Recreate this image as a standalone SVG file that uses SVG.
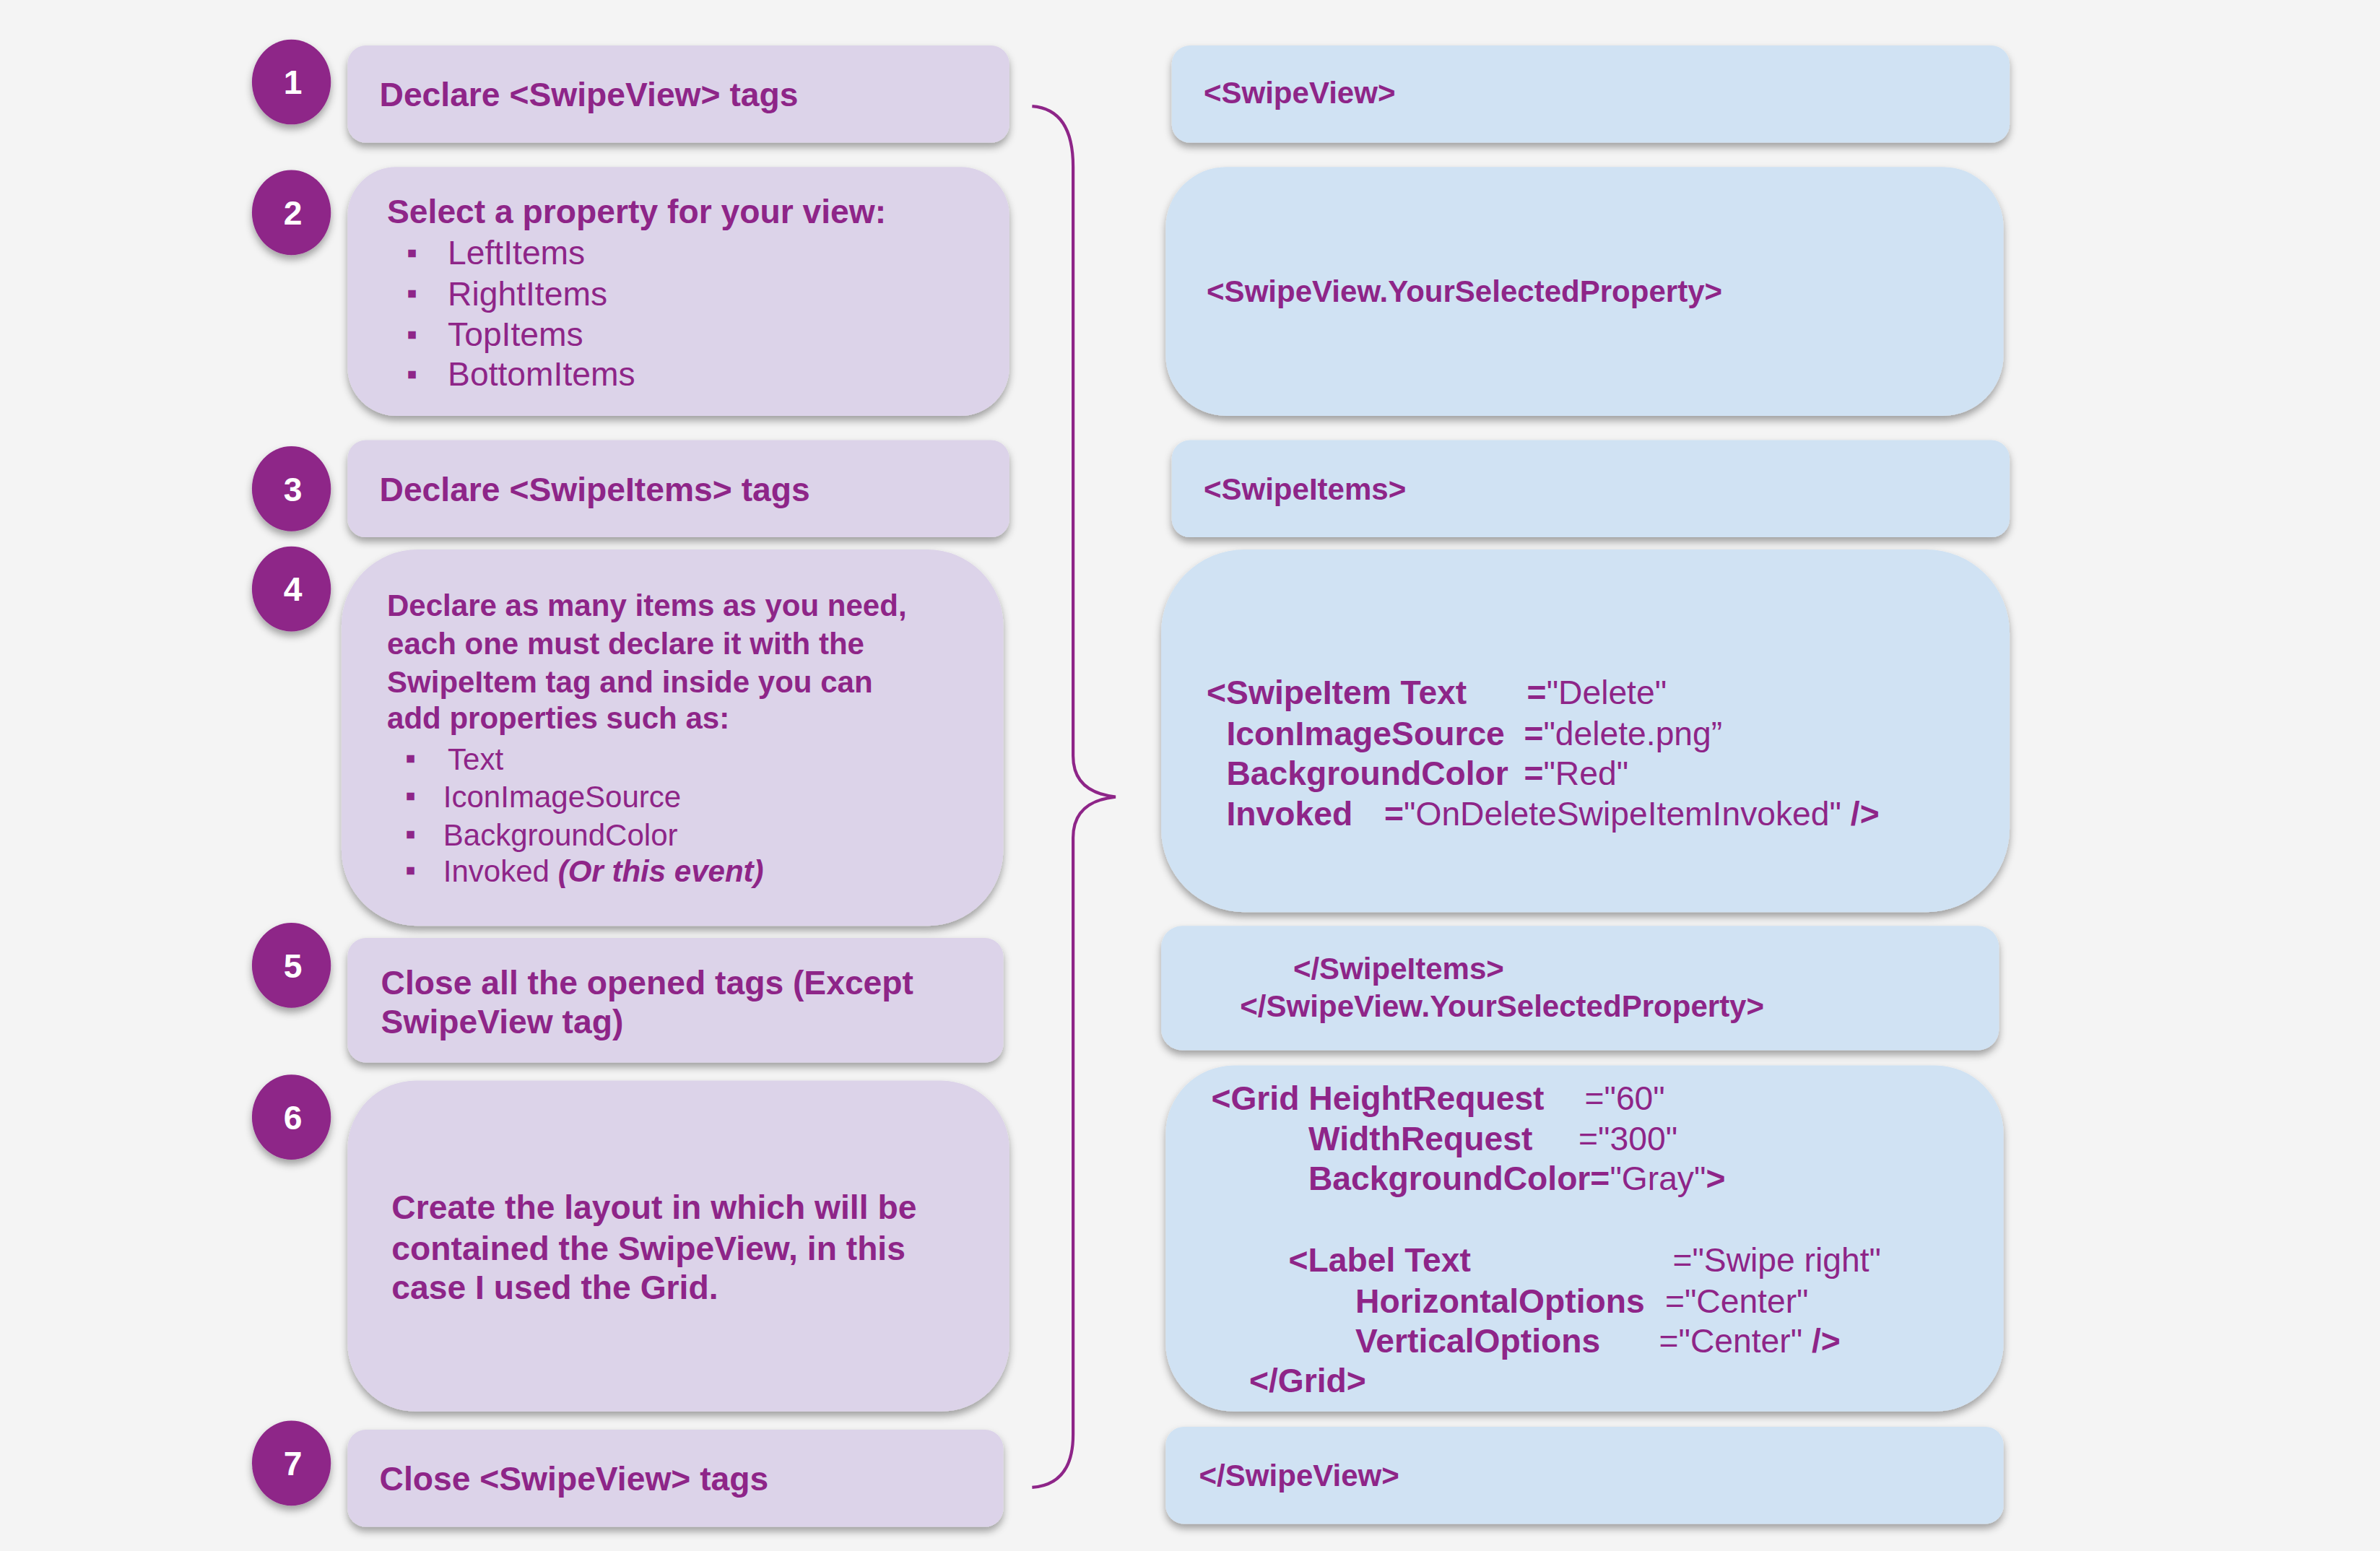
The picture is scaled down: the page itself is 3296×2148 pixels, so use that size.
<svg xmlns="http://www.w3.org/2000/svg" width="3296" height="2148" viewBox="0 0 3296 2148">
<defs>
<filter id="sh" x="-10%" y="-10%" width="120%" height="130%"><feDropShadow dx="0" dy="3" stdDeviation="2.5" flood-color="#000" flood-opacity="0.35"/></filter>
<style>
.l{fill:#dcd3e9;filter:url(#sh)}
.r{fill:#d0e2f3;filter:url(#sh)}
.c{fill:#8e2588;filter:url(#sh)}
.n{fill:#fff;font:bold 22px "Liberation Sans",Arial,sans-serif;text-anchor:middle}
text{font-family:"Liberation Sans",Arial,sans-serif;fill:#8e2588}
.b{font-weight:bold}
.t{font-size:22px}
.s{font-size:20px}
.w{font-weight:normal}
</style>
</defs>
<rect width="3296" height="2148" fill="#f4f4f4"/>
<g transform="scale(2.102)">
<g id="step1"><rect class="l" x="229" y="30" width="436" height="64" rx="12"/><ellipse class="c" cx="192" cy="54" rx="26" ry="28"/><text class="n" x="193" y="62">1</text><text class="b t" x="250" y="70">Declare &lt;SwipeView&gt; tags</text></g>
<g id="step2"><rect class="l" x="229" y="110" width="436" height="164" rx="32"/><ellipse class="c" cx="192" cy="140" rx="26" ry="28"/><text class="n" x="193" y="148">2</text>
<text class="b t" x="255" y="147">Select a property for your view:</text>
<text class="s" x="268" y="173">▪</text><text class="t" x="295" y="174">LeftItems</text>
<text class="s" x="268" y="200">▪</text><text class="t" x="295" y="201">RightItems</text>
<text class="s" x="268" y="227">▪</text><text class="t" x="295" y="228">TopItems</text>
<text class="s" x="268" y="253">▪</text><text class="t" x="295" y="254">BottomItems</text></g>
<g id="step3"><rect class="l" x="229" y="290" width="436" height="64" rx="12"/><ellipse class="c" cx="192" cy="322" rx="26" ry="28"/><text class="n" x="193" y="330">3</text><text class="b t" x="250" y="330">Declare &lt;SwipeItems&gt; tags</text></g>
<g id="step4"><rect class="l" x="225" y="362" width="436" height="248" rx="50"/><ellipse class="c" cx="192" cy="388" rx="26" ry="28"/><text class="n" x="193" y="396">4</text>
<text class="b s" x="255" y="406">Declare as many items as you need,</text>
<text class="b s" x="255" y="431">each one must declare it with the</text>
<text class="b s" x="255" y="456">SwipeItem tag and inside you can</text>
<text class="b s" x="255" y="480">add properties such as:</text>
<text class="s" x="267" y="506">▪</text><text class="s" x="295" y="507">Text</text>
<text class="s" x="267" y="531">▪</text><text class="s" x="292" y="532">IconImageSource</text>
<text class="s" x="267" y="556">▪</text><text class="s" x="292" y="557">BackgroundColor</text>
<text class="s" x="267" y="580">▪</text><text class="s" x="292" y="581">Invoked <tspan class="b" font-style="italic">(Or this event)</tspan></text></g>
<g id="step5"><rect class="l" x="229" y="618" width="432" height="82" rx="12"/><ellipse class="c" cx="192" cy="636" rx="26" ry="28"/><text class="n" x="193" y="644">5</text><text class="b t" x="251" y="655">Close all the opened tags (Except</text><text class="b t" x="251" y="681">SwipeView tag)</text></g>
<g id="step6"><rect class="l" x="229" y="712" width="436" height="218" rx="45"/><ellipse class="c" cx="192" cy="736" rx="26" ry="28"/><text class="n" x="193" y="744">6</text>
<text class="b t" x="258" y="803">Create the layout in which will be</text><text class="b t" x="258" y="830">contained the SwipeView, in this</text><text class="b t" x="258" y="856">case I used the Grid.</text></g>
<g id="step7"><rect class="l" x="229" y="942" width="432" height="64" rx="12"/><ellipse class="c" cx="192" cy="964" rx="26" ry="28"/><text class="n" x="193" y="972">7</text><text class="b t" x="250" y="982">Close &lt;SwipeView&gt; tags</text></g>

<g id="code1"><rect class="r" x="772" y="30" width="552" height="64" rx="12"/><text class="b s" x="793" y="68">&lt;SwipeView&gt;</text></g>
<g id="code2"><rect class="r" x="768" y="110" width="552" height="164" rx="40"/><text class="b s" x="795" y="199">&lt;SwipeView.YourSelectedProperty&gt;</text></g>
<g id="code3"><rect class="r" x="772" y="290" width="552" height="64" rx="12"/><text class="b s" x="793" y="329">&lt;SwipeItems&gt;</text></g>
<g id="code4"><rect class="r" x="765" y="362" width="559" height="239" rx="55"/>
<text class="b t" x="795" y="464">&lt;SwipeItem Text</text><text class="t" x="1006" y="464"><tspan class="b">=</tspan>"Delete"</text>
<text class="b t" x="808" y="491">IconImageSource</text><text class="t" x="1004" y="491"><tspan class="b">=</tspan>"delete.png”</text>
<text class="b t" x="808" y="517">BackgroundColor</text><text class="t" x="1004" y="517"><tspan class="b">=</tspan>"Red"</text>
<text class="b t" x="808" y="544">Invoked</text><text class="t" x="912" y="544"><tspan class="b">=</tspan>"OnDeleteSwipeItemInvoked" <tspan class="b">/&gt;</tspan></text></g>
<g id="code5"><rect class="r" x="765" y="610" width="552" height="82" rx="14"/><text class="b s" x="852" y="645">&lt;/SwipeItems&gt;</text><text class="b s" x="817" y="670">&lt;/SwipeView.YourSelectedProperty&gt;</text></g>
<g id="code6"><rect class="r" x="768" y="702" width="552" height="228" rx="45"/>
<text class="b t" x="798" y="731">&lt;Grid HeightRequest</text><text class="t" x="1044" y="731">="60"</text>
<text class="b t" x="862" y="758">WidthRequest</text><text class="t" x="1040" y="758">="300"</text>
<text class="b t" x="862" y="784">BackgroundColor=<tspan class="w">"Gray"</tspan>&gt;</text>
<text class="b t" x="849" y="838">&lt;Label Text</text><text class="t" x="1102" y="838">="Swipe right"</text>
<text class="b t" x="893" y="865">HorizontalOptions</text><text class="t" x="1097" y="865">="Center"</text>
<text class="b t" x="893" y="891">VerticalOptions</text><text class="t" x="1093" y="891">="Center" <tspan class="b">/&gt;</tspan></text>
<text class="b t" x="823" y="917">&lt;/Grid&gt;</text></g>
<g id="code7"><rect class="r" x="768" y="940" width="552" height="64" rx="12"/><text class="b s" x="790" y="979">&lt;/SwipeView&gt;</text></g>
<g id="connectors"><path d="M680 70 Q707 72 707 110 L707 498 Q707 522 735 525 Q707 528 707 552 L707 945 Q707 978 680 980" fill="none" stroke="#8e2588" stroke-width="2"/></g>
</g>
</svg>
